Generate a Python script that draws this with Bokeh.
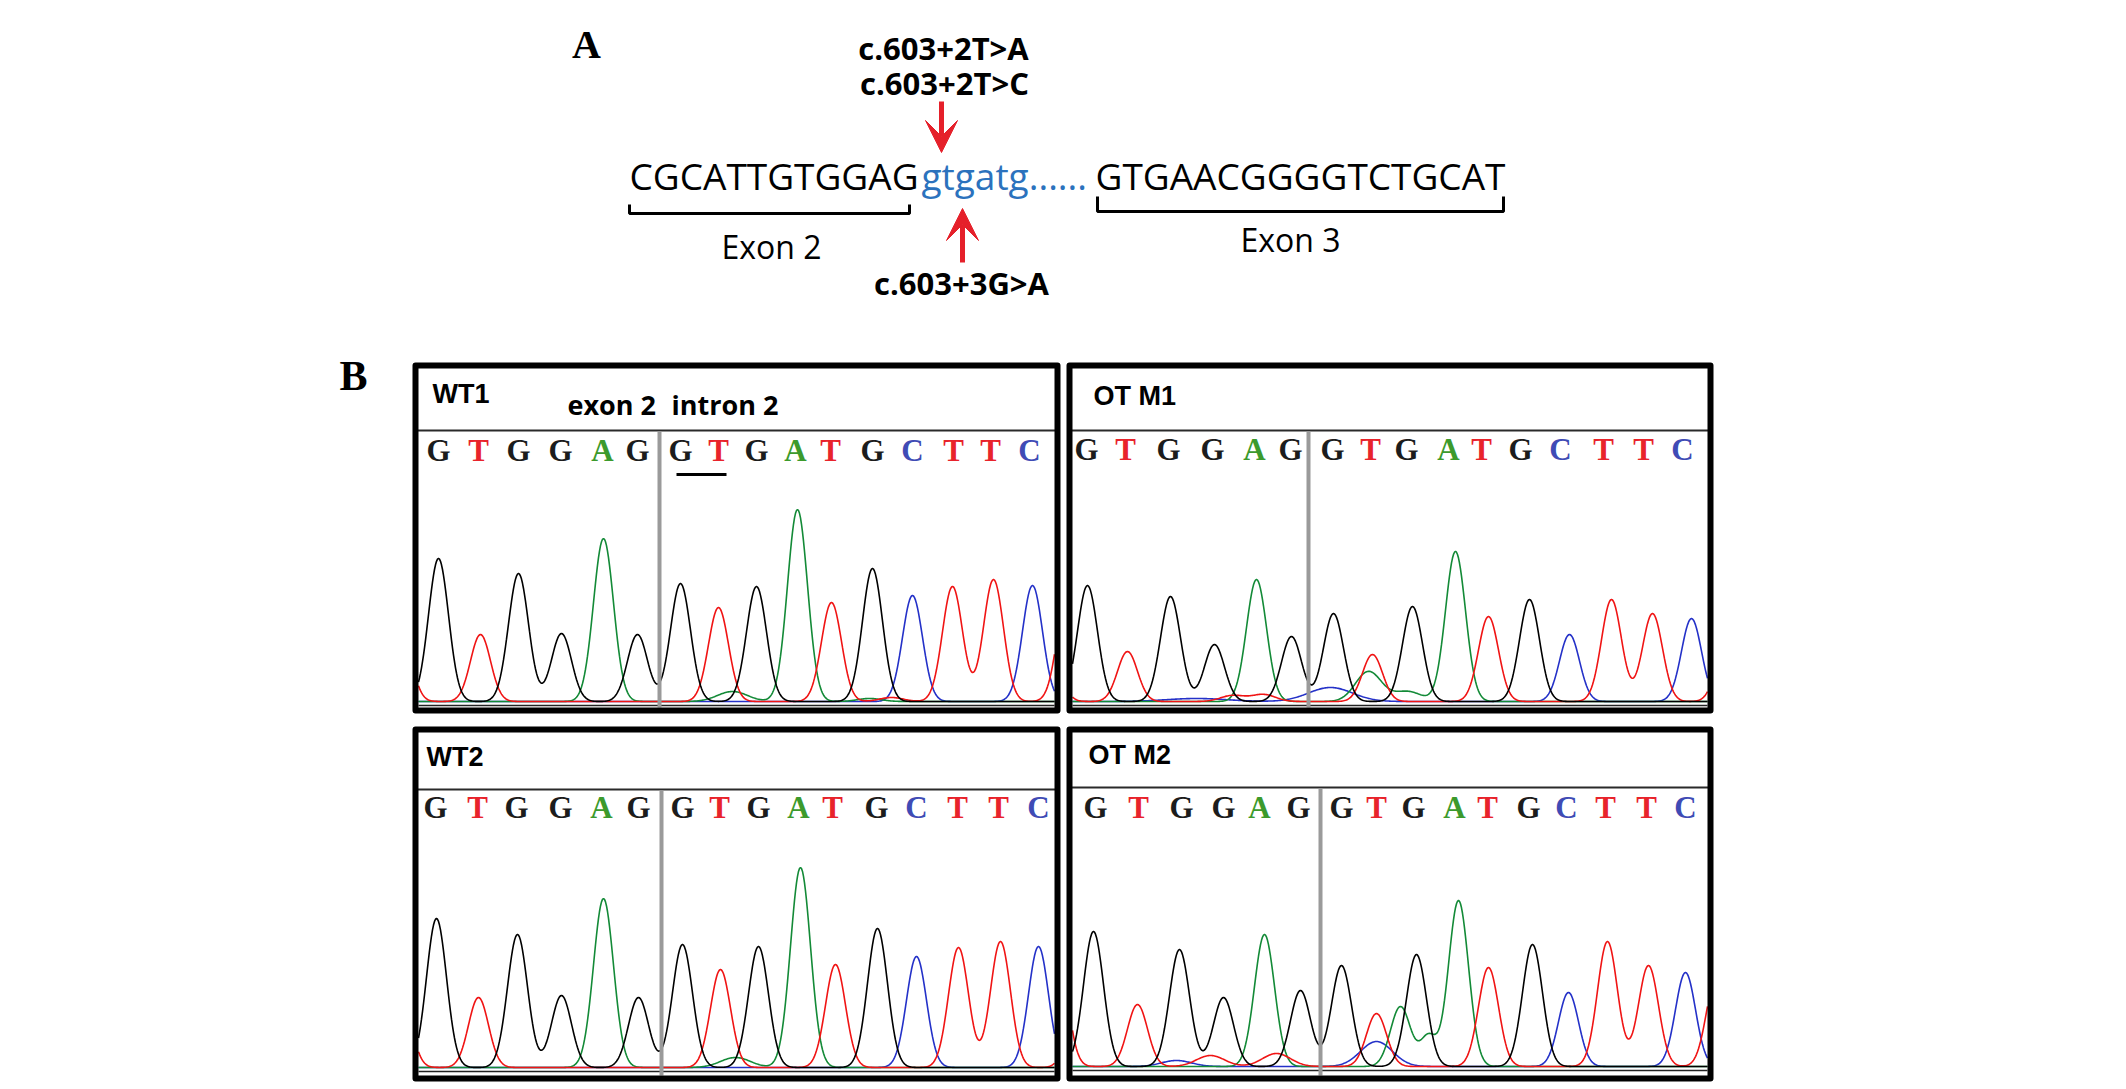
import numpy as np
from bokeh.plotting import figure
from bokeh.models import Range1d, ColumnDataSource, Arrow, VeeHead
from bokeh.core.properties import value
from bokeh.embed import file_html
from bokeh.resources import INLINE

# ---------------- Panel A data ----------------
exon2_seq = "CGCATTGTGGAG"
intron_seq = "gtgatg......"
exon3_seq = "GTGAACGGGGTCTGCAT"
mut_top = ["c.603+2T>A", "c.603+2T>C"]
mut_bottom = ["c.603+3G>A"]
exon_labels = ["Exon 2", "Exon 3"]

# ---------------- Panel B data ----------------
bases = list("GTGGAGGTGATGCTTC")
samples = ["WT1", "OT M1", "WT2", "OT M2"]

# primary peak scan positions (trace px) and peak heights, one per base call
peak_pos = {
    "WT1":   [26, 68, 106, 149, 191, 225, 268, 306, 344, 385, 419, 460, 500, 540, 581, 620],
    "OT M1": [21, 61, 104, 148, 190, 225, 267, 306, 346, 389, 422, 463, 503, 545, 586, 625],
    "WT2":   [24, 66, 105, 149, 191, 226, 270, 308, 346, 388, 423, 465, 504, 546, 588, 626],
    "OT M2": [27, 71, 113, 157, 198, 234, 275, 310, 350, 392, 422, 466, 502, 541, 582, 619],
}
peak_h = {
    "WT1":   [143, 67, 128, 68, 163, 67, 118, 94, 115, 192, 99, 133, 106, 115, 122, 116],
    "OT M1": [116, 50, 105, 57, 122, 65, 88, 47, 95, 150, 85, 102, 67, 102, 88, 83],
    "WT2":   [149, 70, 133, 72, 169, 70, 123, 98, 121, 200, 103, 139, 111, 120, 126, 121],
    "OT M2": [135, 62, 117, 69, 132, 76, 101, 53, 112, 166, 99, 122, 74, 125, 101, 94],
}
# secondary / edge peaks: (base, scan position, height, width)
extra_peaks = {
    "WT1":   [("T", -12, 80, 10), ("T", 655, 110, 10), ("A", 320, 10, 15), ("T", 479, 4, 12), ("A", 457, 3, 12)],
    "OT M1": [("T", -15, 40, 10), ("T", 660, 60, 10), ("C", 264, 14, 22), ("A", 302, 30, 13),
              ("A", 341, 10, 14), ("T", 166, 6, 12), ("T", 197, 7, 12), ("C", 130, 3, 30)],
    "WT2":   [("T", -12, 80, 10), ("T", 665, 60, 10), ("A", 323, 10, 15)],
    "OT M2": [("T", -10, 130, 10), ("T", 650, 90, 10), ("C", 310, 25, 16), ("A", 334, 60, 10),
              ("A", 362, 30, 8), ("T", 144, 11, 14), ("T", 210, 13, 14), ("C", 110, 6, 15)],
}
# base-call label positions along the trace
call_pos = {
    "WT1":   [26, 66, 106, 148, 190, 225, 268, 306, 344, 383, 418, 460, 500, 541, 578, 617],
    "OT M1": [20, 59, 102, 146, 188, 224, 266, 304, 340, 382, 415, 454, 494, 537, 577, 616],
    "WT2":   [23, 65, 104, 148, 189, 226, 270, 307, 346, 386, 420, 464, 504, 545, 586, 626],
    "OT M2": [29, 72, 115, 157, 193, 232, 275, 310, 347, 388, 421, 462, 500, 539, 580, 619],
}
junction_pos = {"WT1": 247, "OT M1": 242, "WT2": 249, "OT M2": 254}

# ---------------- layout (reference pixel frame) ----------------
W, H = 2126, 1089
p = figure(width=W, height=H, x_range=Range1d(0, W), y_range=Range1d(H, 0),
           output_backend="svg", toolbar_location=None, min_border=0,
           x_axis_location=None, y_axis_location=None)
p.grid.visible = False
p.outline_line_color = None

RED = "#e5202a"
BLUE_SEQ = "#2b72bd"
TRACE_COL = {"G": "#000000", "T": "#f01414", "A": "#138a37", "C": "#2431c8"}
CALL_COL = {"G": "#1c1c1c", "T": "#e8232b", "A": "#3c9a2c", "C": "#3f4bb5"}
SHIFT = 0.34  # baseline correction (fraction of font size)


def txt(x, y, s, size, color="black", font="Open Sans", style="normal", align="left"):
    src = ColumnDataSource(dict(x=[x], y=[y - SHIFT * size], t=[s]))
    p.text(x="x", y="y", text="t", source=src, text_font=value(font), text_font_size=f"{size}px",
           text_font_style=style, text_color=color, text_align=align, text_baseline="alphabetic")


# ---- Panel A ----
txt(586, 58, "A", 40, font="Liberation Serif", style="bold", align="center")
txt(943, 58, mut_top[0], 31, style="bold", align="center")
txt(944, 93, mut_top[1], 31, style="bold", align="center")
txt(629, 188, exon2_seq, 37)
txt(921, 188, intron_seq, 37, color=BLUE_SEQ)
txt(1095, 188, exon3_seq, 37)
p.line([629, 629, 909, 909], [204, 213, 213, 204], line_color="black", line_width=3)
p.line([1097, 1097, 1503, 1503], [196, 211, 211, 196], line_color="black", line_width=3)
txt(771, 257, exon_labels[0], 32, align="center")
txt(1290, 250, exon_labels[1], 32, align="center")
txt(961, 293, mut_bottom[0], 31, style="bold", align="center")
p.add_layout(Arrow(end=VeeHead(size=32, fill_color=RED, line_color=RED, line_width=1),
                   x_start=941, y_start=101, x_end=941, y_end=152, line_color=RED, line_width=5))
p.add_layout(Arrow(end=VeeHead(size=32, fill_color=RED, line_color=RED, line_width=1),
                   x_start=962, y_start=262, x_end=962, y_end=208, line_color=RED, line_width=5))

# ---- Panel B ----
txt(353, 390, "B", 42, font="Liberation Serif", style="bold", align="center")

boxes = {
    "WT1":   dict(x0=412, x1=1060, y0=362, y1=713, head=430, base=701, calls=461, name=(432, 403)),
    "OT M1": dict(x0=1066, x1=1713, y0=362, y1=713, head=430, base=701, calls=460, name=(1093, 405)),
    "WT2":   dict(x0=412, x1=1060, y0=726, y1=1081, head=789, base=1067, calls=818, name=(426, 766)),
    "OT M2": dict(x0=1066, x1=1713, y0=726, y1=1081, head=787, base=1066, calls=818, name=(1088, 764)),
}
SIGMA = 10.0
BW = 6  # border width

for s in samples:
    b = boxes[s]
    inner_w = b["x1"] - b["x0"] - BW
    xs = np.arange(BW, inner_w + 0.5, 1.0)
    for base in ["C", "A", "T", "G"]:
        sig = np.zeros_like(xs)
        for bb, pos, h in zip(bases, peak_pos[s], peak_h[s]):
            if bb == base:
                sig += h * np.exp(-(xs - pos) ** 2 / (2 * SIGMA ** 2))
        for bb, pos, h, w in extra_peaks[s]:
            if bb == base:
                sig += h * np.exp(-(xs - pos) ** 2 / (2 * w ** 2))
        p.line(b["x0"] + xs, b["base"] - sig, line_color=TRACE_COL[base], line_width=1.6)
    # thin axis line below the baseline
    p.line([b["x0"] + BW, b["x1"] - BW], [b["base"] + 4, b["base"] + 4], line_color="#222222",
           line_width=1.5)
    # header separator
    p.line([b["x0"] + BW / 2, b["x1"] - BW / 2], [b["head"], b["head"]], line_color="#2a2a2a",
           line_width=2)
    # junction marker
    jx = b["x0"] + junction_pos[s]
    p.line([jx, jx], [b["head"] + 1, b["y1"] - BW], line_color="#9a9a9a", line_width=4)
    # base calls
    src = ColumnDataSource(dict(x=[b["x0"] + c for c in call_pos[s]],
                                y=[b["calls"] - SHIFT * 31] * len(bases),
                                t=bases, c=[CALL_COL[x] for x in bases]))
    p.text(x="x", y="y", text="t", text_color="c", source=src, text_font=value("Liberation Serif"),
           text_font_size="31px", text_font_style="bold", text_align="center",
           text_baseline="alphabetic")
    # sample name
    txt(b["name"][0], b["name"][1], s, 27, font="Liberation Sans", style="bold")
    # border
    p.quad(left=[b["x0"] + BW / 2], right=[b["x1"] - BW / 2], top=[b["y0"] + BW / 2],
           bottom=[b["y1"] - BW / 2], fill_color=None, line_color="black", line_width=BW,
           line_join="round")

# exon/intron annotation in WT1
txt(567, 413, "exon 2", 27, style="bold")
txt(671, 413, "intron 2", 27, style="bold")
p.line([412 + 264, 412 + 314], [474, 474], line_color="black", line_width=3)

open("out.html", "w").write(file_html(p, INLINE))
